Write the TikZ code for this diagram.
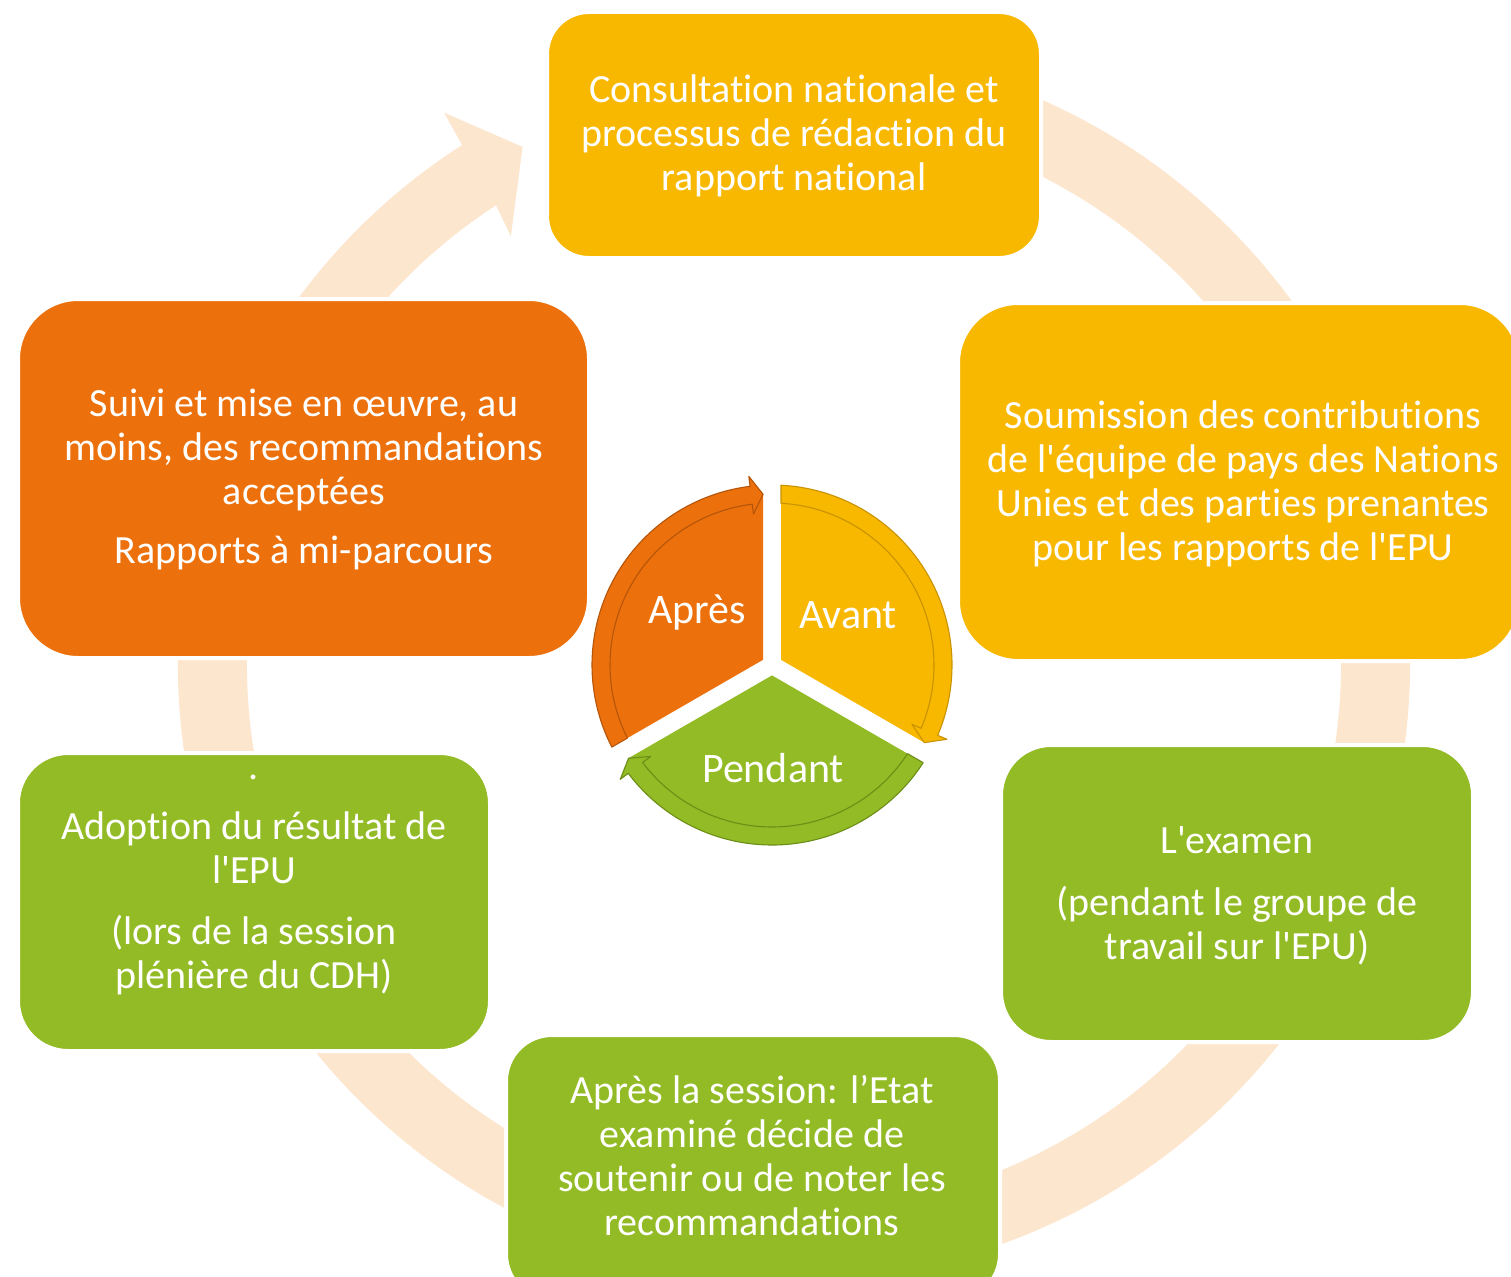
\documentclass[tikz,border=0pt]{standalone}
\usepackage{fontspec}
\newfontfamily\cf{Carlito}[Ligatures={NoCommon}]
\usetikzlibrary{calc}
\definecolor{cyel}{HTML}{F8B800}
\definecolor{cora}{HTML}{EC700B}
\definecolor{cgrn}{HTML}{92BB25}
\definecolor{cpch}{HTML}{FDE6CE}
\definecolor{dyel}{HTML}{C99200}
\definecolor{dora}{HTML}{B5550A}
\definecolor{dgrn}{HTML}{6B8E17}
\tikzset{
  box/.style={draw=white, line width=4pt, rounded corners=#1, inner sep=0pt},
  boxtext/.style={text=white, align=center, font=\cf\fontsize{40}{44}\selectfont, inner sep=0pt},
  cyctext/.style={text=white, font=\cf\fontsize{42}{48}\selectfont, inner sep=0pt},
}
% segment: #1 start angle, #2 end angle, #3 fill, #4 line colour, #5 name
\newcommand\pieseg[5]{%
  \pgfmathsetmacro\segBis{#1+60}%
  \pgfmathsetmacro\segSa{#1+2.87}%
  \pgfmathsetmacro\segSi{#1+3.18}%
  \pgfmathsetmacro\segHb{#2-7}%
  \pgfmathsetmacro\segHt{#2-3}%
  \coordinate (#5K) at ($(C)+(\segBis:10.4)$);
  \fill[#3] (#5K) -- ($(C)+(\segSa:180)$) arc[start angle=\segSa, end angle=\segHb, radius=180]
     -- ($(C)+(\segHb:190)$) -- ($(C)+(\segHt:171)$) -- cycle;
  \draw[#4, line width=1.1pt, line join=round]
     ($(C)+(\segSi:162)$) arc[start angle=\segSi, end angle=\segHb, radius=162]
     -- ($(C)+(\segHb:152)$) -- ($(C)+(\segHt:171)$) -- ($(C)+(\segHb:190)$)
     -- ($(C)+(\segHb:180)$) arc[start angle=\segHb, end angle=\segSa, radius=180] -- cycle;
}
\begin{document}
\begin{tikzpicture}[x=1pt,y=-1pt]
\useasboundingbox (0,0) rectangle (1511,1276);
\clip (0,0) rectangle (1511,1276);
\fill[white] (0,0) rectangle (1511,1276);
% big circular arrow
\coordinate (O) at (794,664);
\fill[cpch] ($(O)+(-80:616)$) arc[start angle=-80, end angle=237.4, radius=616]
  -- ($(O)+(237.6:653)$) -- ($(O)+(242.3:584)$) -- ($(O)+(236.5:513)$)
  -- ($(O)+(237.0:547)$) arc[start angle=237.0, end angle=-80, radius=547] -- cycle;
% boxes
\node[box=42pt, fill=cyel, minimum width=494pt, minimum height=246pt] (b1) at (794,135) {};
\node[box=60pt, fill=cyel, minimum width=562pt, minimum height=358pt] (b2) at (1239,482) {};
\node[box=50pt, fill=cgrn, minimum width=472pt, minimum height=297pt] (b3) at (1237,893.5) {};
\node[box=46pt, fill=cgrn, minimum width=494pt, minimum height=265pt] (b4) at (753,1167.5) {};
\node[box=50pt, fill=cgrn, minimum width=472pt, minimum height=298pt] (b5) at (254,902) {};
\node[box=60pt, fill=cora, minimum width=571pt, minimum height=359pt] (b6) at (303.5,478.5) {};
% texts
\node[boxtext] (t1) at (794,136) {Consultation nationale et\\processus de rédaction du\\rapport national};
\node[boxtext] (t2) at (1243,484) {Soumission des contributions\\de l'équipe de pays des Nations\\Unies et des parties prenantes\\pour les rapports de l'EPU};
\node[boxtext] (t3) at (1237,895.5) {L'examen\\[18pt](pendant le groupe de\\travail sur l'EPU)};
\node[boxtext] (t4) at (752,1156) {Après la session: l’Etat\\examiné décide de\\soutenir ou de noter les\\recommandations};
\node[boxtext] (t5) at (254,884.5) {.\\[16pt]Adoption du résultat de\\l'EPU\\[17pt](lors de la session\\plénière du CDH)};
\node[boxtext] (t6) at (304,479) {Suivi et mise en œuvre, au\\moins, des recommandations\\acceptées\\[15pt]Rapports à mi-parcours};
% central cycle
\coordinate (C) at (772,665);
\pieseg{150}{270}{cora}{dora}{apres}
\pieseg{-90}{30}{cyel}{dyel}{avant}
\pieseg{30}{150}{cgrn}{dgrn}{pendant}
\node[cyctext] (l1) at (697,613) {Après};
\node[cyctext] (l2) at (848,615) {Avant};
\node[cyctext] (l3) at (773,768) {Pendant};
\end{tikzpicture}
\end{document}
